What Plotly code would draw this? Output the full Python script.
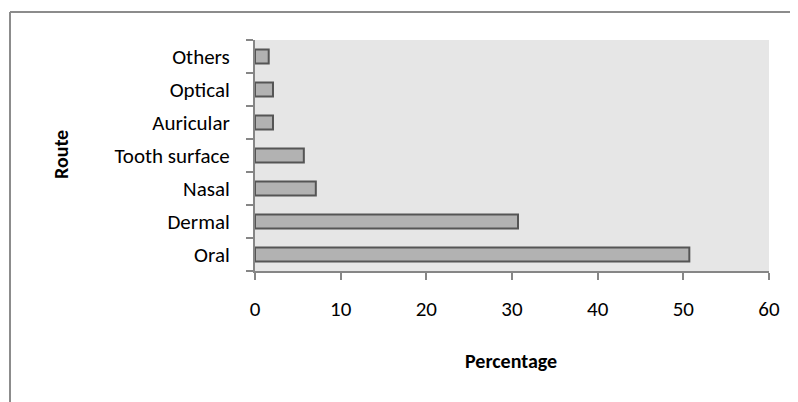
import plotly.graph_objects as go

routes = ["Oral", "Dermal", "Nasal", "Tooth surface", "Auricular", "Optical", "Others"]
percentages = [50.7, 30.7, 7.1, 5.7, 2.1, 2.1, 1.6]
x_ticks = [0, 10, 20, 30, 40, 50, 60]

OFF = 8  # default page body margin
W, H = 790, 394
# plot area in page pixels: x 255..769, y 40..271
L = 255 - OFF
T = 40 - OFF
R = W - (769 - OFF)
B = H - (271 - OFF)
pw = W - L - R
ph = H - T - B

def px_x(px):
    return (px - OFF - L) / pw

def px_y(py):
    return (H - B - (py - OFF)) / ph

font_family = "Carlito, Calibri, Lato, sans-serif"

fig = go.Figure(go.Bar(
    x=percentages,
    y=routes,
    orientation="h",
    marker=dict(color="#b2b2b2", line=dict(color="#555555", width=2)),
))

fig.update_layout(
    width=W, height=H,
    margin=dict(l=L, r=R, t=T, b=B),
    paper_bgcolor="white",
    plot_bgcolor="#e6e6e6",
    bargap=0.57,
    showlegend=False,
    font=dict(family=font_family, size=21, color="black"),
    xaxis=dict(
        range=[0, 60], tickvals=x_ticks, ticktext=[str(v) for v in x_ticks],
        showgrid=False, zeroline=False,
        showline=True, linecolor="#868686", linewidth=2,
        ticks="outside", ticklen=7, tickcolor="#868686", tickwidth=2,
        ticklabelstandoff=11,
        tickfont=dict(size=21),
    ),
    yaxis=dict(
        categoryorder="array", categoryarray=routes,
        showgrid=False, zeroline=False,
        showline=True, linecolor="#868686", linewidth=2,
        ticks="outside", ticklen=7, tickcolor="#868686", tickwidth=2,
        tickson="boundaries",
        ticklabelstandoff=19,
        tickfont=dict(size=21),
        range=[-0.5, 6.5],
    ),
    annotations=[
        dict(text="<b>Route</b>", x=px_x(61), y=px_y(155), xref="paper", yref="paper",
             xanchor="center", yanchor="middle",
             showarrow=False, textangle=-90, font=dict(size=20)),
        dict(text="<b>Percentage</b>", x=px_x(511), y=px_y(361), xref="paper", yref="paper",
             xanchor="center", yanchor="middle",
             showarrow=False, font=dict(size=20)),
    ],
    shapes=[
        dict(type="line", xref="paper", yref="paper", x0=px_x(10), x1=px_x(10),
             y0=px_y(12), y1=px_y(420), line=dict(color="#8c8c8c", width=2)),
        dict(type="line", xref="paper", yref="paper", x0=px_x(10), x1=px_x(820),
             y0=px_y(12), y1=px_y(12), line=dict(color="#8c8c8c", width=2)),
    ],
)

fig.write_html("out.html")
